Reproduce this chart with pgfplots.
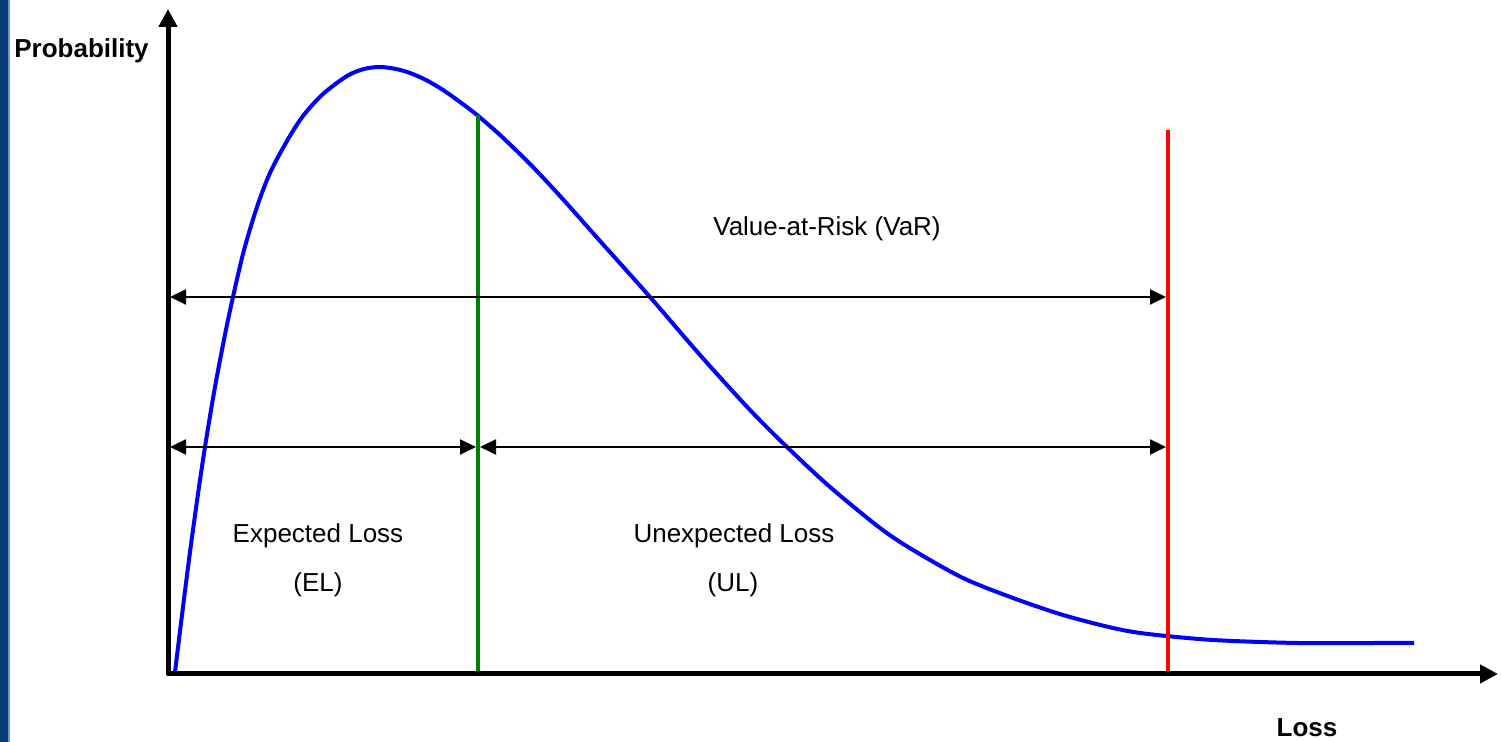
\documentclass[border=0pt]{standalone}
\usepackage{fontspec}
\setmainfont{Liberation Sans}
\usepackage{pgfplots}
\pgfplotsset{compat=1.18}
\usetikzlibrary{arrows.meta}
\definecolor{strip}{RGB}{8,58,118}
\definecolor{stripedge}{RGB}{120,150,185}
\definecolor{elgreen}{RGB}{0,128,0}
\begin{document}
\begin{tikzpicture}
\begin{axis}[hide axis, x=0.5pt, y=0.5pt,
  xmin=-168, xmax=1333, ymin=-68, ymax=674, clip=false]
% frame / background strip
\path (axis cs:-168,-68) (axis cs:1333,674);
\fill[strip] (axis cs:-168,-68) rectangle (axis cs:-160,674);
\fill[stripedge] (axis cs:-160,-68) rectangle (axis cs:-158.5,674);
% loss distribution curve
\addplot[blue, line width=2pt, smooth, no markers] coordinates {
(7,2) (15,67) (22,122) (30,180) (37,227) (47,287) (60,354) (75,420)
(89,467) (102,501) (119,533) (135,558) (155,580) (179,598) (196,605)
(212,607) (228,605) (242,601) (258,594) (275,584) (292,572) (309,559)
(332,539) (362,510) (392,478) (432,433) (482,377) (532,319) (582,264)
(620,226) (662,187) (712,146) (745,124) (795,96) (845,76) (895,59)
(945,46) (980,40) (1045,34) (1129,31) (1212,31) (1246,31)};
% EL and VaR lines
\addplot[elgreen, line width=2pt, no markers] coordinates {(310,0) (310,559)};
\addplot[red, line width=2pt, no markers] coordinates {(1000,0) (1000,544)};
% axes
\addplot[black, line width=2.5pt, no markers, -{Triangle[length=9pt,width=9pt]}] coordinates {(0,-1) (0,665)};
\addplot[black, line width=2.5pt, no markers, -{Triangle[length=9pt,width=9pt]}] coordinates {(-1,0) (1330,0)};
% dimension arrows
\addplot[black, line width=1pt, no markers, {Triangle[length=8pt,width=7.5pt]}-{Triangle[length=8pt,width=7.5pt]}] coordinates {(2,377) (998,377)};
\addplot[black, line width=1pt, no markers, {Triangle[length=8pt,width=7.5pt]}-{Triangle[length=8pt,width=7.5pt]}] coordinates {(2,227) (308,227)};
\addplot[black, line width=1pt, no markers, {Triangle[length=8pt,width=7.5pt]}-{Triangle[length=8pt,width=7.5pt]}] coordinates {(312,227) (998,227)};
% texts
\begin{scope}[every node/.style={anchor=base, inner sep=0pt, font=\fontsize{13}{15}\selectfont}]
\node[font=\fontsize{13}{15}\selectfont\bfseries] at (axis cs:-86.5,616) {Probability};
\node[font=\fontsize{13}{15}\selectfont\bfseries] at (axis cs:1139,-63) {Loss};
\node at (axis cs:659,438) {Value-at-Risk (VaR)};
\node at (axis cs:150,131) {Expected Loss};
\node at (axis cs:150,82) {(EL)};
\node at (axis cs:566,131) {Unexpected Loss};
\node at (axis cs:565,82) {(UL)};
\end{scope}
\end{axis}
\end{tikzpicture}
\end{document}
